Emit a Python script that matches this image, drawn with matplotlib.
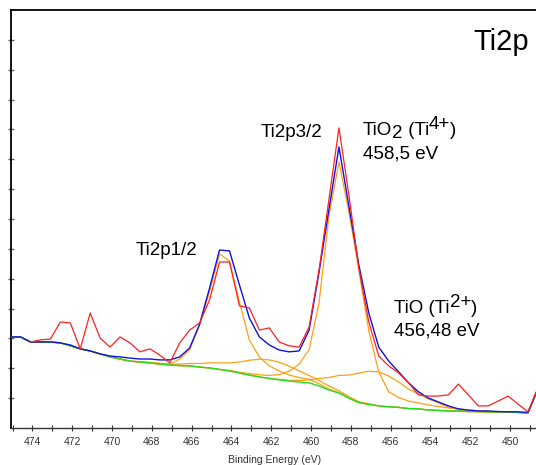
import matplotlib
matplotlib.use("Agg")
import matplotlib.pyplot as plt
import numpy as np

plt.rcParams['font.family'] = ['Liberation Sans', 'DejaVu Sans']

# binding energy grid (eV), first two points only carry the fit curves
energy = [475.1, 474.6,
          474.1, 473.6, 473.1, 472.6, 472.1, 471.6, 471.1, 470.6, 470.1, 469.6,
          469.1, 468.6, 468.1, 467.6, 467.1, 466.6, 466.1, 465.6, 465.1, 464.6,
          464.1, 463.6, 463.1, 462.6, 462.1, 461.6, 461.1, 460.6, 460.1, 459.6,
          459.1, 458.6, 458.1, 457.6, 457.1, 456.6, 456.1, 455.6, 455.1, 454.6,
          454.1, 453.6, 453.1, 452.6, 452.1, 451.6, 451.1, 450.6, 450.1, 449.6,
          449.1, 448.6]

# measured spectrum (red)
measured = [np.nan, np.nan,
            2.88, 2.95, 2.98, 3.55, 3.52, 2.65, 3.85, 3.01, 2.71, 3.05,
            2.85, 2.55, 2.65, 2.44, 2.18, 2.85, 3.28, 3.52, 4.29, 5.56,
            5.56, 4.09, 4.02, 3.28, 3.35, 2.88, 2.75, 2.71, 3.38, 5.29,
            7.67, 10.05, 7.80, 5.36, 3.55, 2.41, 2.08, 1.84, 1.51, 1.11,
            1.07, 1.07, 1.11, 1.47, 1.11, 0.74, 0.74, 0.90, 1.07, 0.80,
            0.54, 1.34]

# fit envelope (blue)
envelope = [3.05, 3.05,
            2.88, 2.88, 2.88, 2.85, 2.78, 2.65, 2.58, 2.48, 2.41, 2.38,
            2.34, 2.31, 2.31, 2.28, 2.28, 2.38, 2.68, 3.48, 4.69, 5.96,
            5.93, 4.79, 3.68, 3.05, 2.78, 2.61, 2.55, 2.58, 3.28, 5.22,
            7.33, 9.41, 7.43, 5.46, 3.85, 2.71, 2.24, 1.88, 1.51, 1.21,
            1.00, 0.87, 0.74, 0.64, 0.60, 0.57, 0.57, 0.55, 0.54, 0.54,
            0.52, 1.32]

# Shirley background (green)
background = [3.05, 3.05,
              2.88, 2.88, 2.88, 2.85, 2.75, 2.65, 2.58, 2.48, 2.38, 2.31,
              2.24, 2.21, 2.18, 2.14, 2.11, 2.09, 2.08, 2.04, 2.01, 1.96,
              1.91, 1.84, 1.77, 1.71, 1.66, 1.61, 1.57, 1.54, 1.51, 1.41,
              1.27, 1.17, 1.00, 0.85, 0.79, 0.74, 0.71, 0.69, 0.65, 0.64,
              0.60, 0.59, 0.57, 0.57, 0.55, 0.55, 0.54, 0.54, 0.54, 0.52,
              0.50, 1.32]

# fitted components, height above background (orange)
tio2_2p12 = [0.0] * 14 + [0.02, 0.03, 0.03, 0.22, 0.54, 1.41, 2.55, 3.87, 3.68, 2.38,
                          1.17, 0.67, 0.42, 0.30, 0.20, 0.15, 0.12, 0.07, 0.03, 0.02] + [0.0] * 20
tio_2p12 = [0.0] * 16 + [0.03, 0.05, 0.08, 0.12, 0.17, 0.22, 0.27, 0.37, 0.50, 0.59,
                         0.62, 0.59, 0.50, 0.37, 0.25, 0.18, 0.13, 0.08, 0.05, 0.03,
                         0.02] + [0.0] * 17
tio2_2p32 = [0.0] * 22 + [0.02, 0.03, 0.05, 0.07, 0.10, 0.18, 0.33, 0.60, 1.11, 2.78,
                          5.83, 7.74, 6.23, 4.44, 2.46, 1.14, 0.50, 0.33, 0.25, 0.20,
                          0.17, 0.13, 0.10, 0.07, 0.05, 0.03, 0.02] + [0.0] * 5
tio_2p32 = [0.0] * 27 + [0.02, 0.03, 0.05, 0.10, 0.25, 0.42, 0.59, 0.77, 0.99, 1.11,
                         1.14, 1.03, 0.85, 0.65, 0.50, 0.37, 0.25, 0.13, 0.05, 0.02] + [0.0] * 7
components = [tio2_2p12, tio_2p12, tio2_2p32, tio_2p32]

major_ticks = [474, 472, 470, 468, 466, 464, 462, 460, 458, 456, 454, 452, 450]
minor_ticks = [475, 473, 471, 469, 467, 465, 463, 461, 459, 457, 455, 453, 451, 449]

fig = plt.figure(figsize=(5.36, 4.65), dpi=100)
ax = fig.add_axes([0.0205, 0.0796, 0.985, 0.899])

bg = np.array(background)
for comp in components:
    ax.plot(energy, bg + np.array(comp), color='#ffa010', lw=0.9, zorder=2)
ax.plot(energy, background, color='#20e020', lw=1.0, zorder=3)
ax.plot(energy, envelope, color='#1010e0', lw=1.0, zorder=4)
ax.plot(energy, measured, color='#ff2020', lw=0.9, zorder=5)

ax.set_xlim(475.08, 448.55)
ax.set_ylim(0, 14)

ax.spines['right'].set_visible(False)
for s in ['left', 'top']:
    ax.spines[s].set_linewidth(1.3)
    ax.spines[s].set_color('black')
ax.spines['bottom'].set_linewidth(1.0)
ax.spines['bottom'].set_color('#333333')

ax.set_xticks(major_ticks)
ax.set_xticks(minor_ticks, minor=True)
ax.set_xticklabels([str(t) for t in major_ticks])
ax.tick_params(axis='x', which='both', direction='inout', length=5, width=0.8,
               color='#333333', labelsize=7.5, labelcolor='#333333', pad=4)
ax.set_yticks(range(1, 14))
ax.set_yticklabels([])
ax.tick_params(axis='y', direction='inout', length=4, width=1.0, color='#666666')
ax.set_xlabel('Binding Energy (eV)', fontsize=7.5, color='#333333', labelpad=6)


def rich_text(x, y, pieces, size=13.5):
    # pieces: (text, vertical shift in points); same size, chained left to right
    first, dy = pieces[0]
    prev = ax.text(x, y, first, fontsize=size, va='baseline')
    for txt, dy in pieces[1:]:
        prev = ax.annotate(txt, xy=(1, 0), xycoords=prev, xytext=(0, dy),
                           textcoords='offset points', fontsize=size, va='bottom')
    return prev


ax.text(451.84, 12.66, 'Ti2p', fontsize=21, va='baseline')
ax.text(462.55, 9.75, 'Ti2p3/2', fontsize=13.5, va='baseline')
rich_text(457.40, 9.81, [('TiO', 0), ('2', -2), (' (Ti', 2), ('4+', 4.5), (')', -4.5)])
ax.text(457.40, 9.04, '458,5 eV', fontsize=13.5, va='baseline')
ax.text(468.81, 5.79, 'Ti2p1/2', fontsize=13.5, va='baseline')
rich_text(455.83, 3.85, [('TiO (Ti', 0), ('2+', 4.5), (')', -4.5)])
ax.text(455.83, 3.11, '456,48 eV', fontsize=13.5, va='baseline')

fig.savefig('out.png', dpi=100)
